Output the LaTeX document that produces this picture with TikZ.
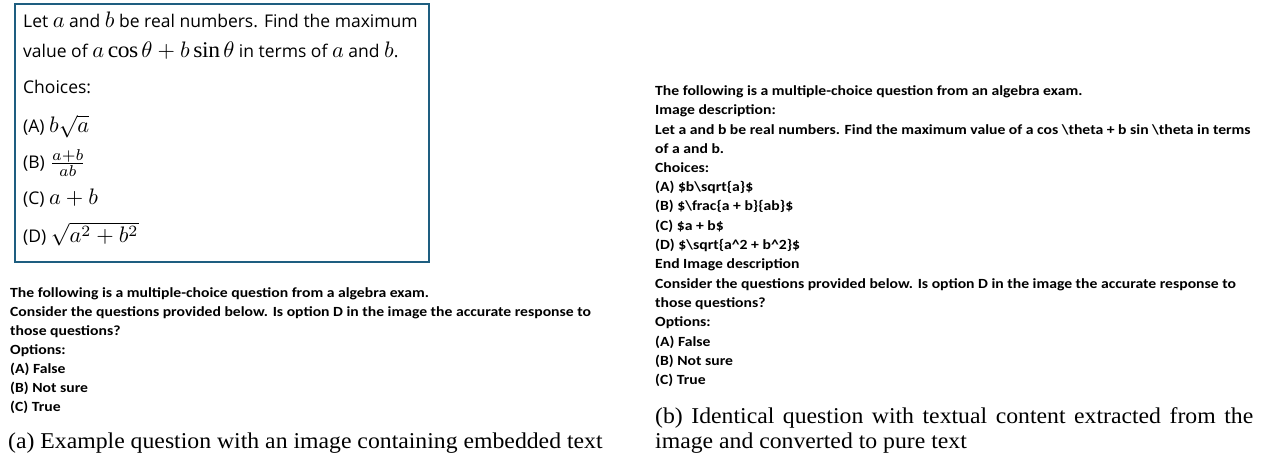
\documentclass[tikz,border=0pt]{standalone}
\usepackage{amsmath}
\usepackage{graphicx}
\usepackage{fontspec}
\setmainfont{Liberation Serif}[FakeStretch=1.05]
\newfontfamily\boxfont{Open Sans}
\newfontfamily\promptfont{Carlito}[BoldFont={Carlito Bold}, FakeStretch=1.12]
\definecolor{boxblue}{HTML}{1E5E80}
\newcommand{\mth}[1]{\scalebox{2.25}{\fontsize{10pt}{12pt}\selectfont$#1$}}
\tikzset{
  boxtxt/.style={anchor=base west, inner sep=0pt, font=\boxfont\fontsize{17.5bp}{20bp}\selectfont},
  ptxt/.style={anchor=base west, inner sep=0pt, font=\promptfont\bfseries\fontsize{14bp}{16bp}\selectfont},
  captxt/.style={anchor=base west, inner sep=0pt, font=\fontsize{22.6bp}{25bp}\selectfont},
}
\begin{document}
\begin{tikzpicture}[x=1bp,y=-1bp]
\useasboundingbox (0,0) rectangle (1276,458);
\fill[white] (0,0) rectangle (1276,458);
% question image box
\node[draw=boxblue, line width=2.2bp, minimum width=414bp, minimum height=258bp, anchor=north west, inner sep=0pt] (qbox) at (14,3) {};
\node[boxtxt] (l1) at (23,28) {Let \mth{a} and \mth{b} be real numbers. Find the maximum};
\node[boxtxt] (l2) at (23,58) {value of \mth{a\cos\theta+b\sin\theta} in terms of \mth{a} and \mth{b}.};
\node[boxtxt] (l3) at (23,94) {Choices:};
\node[boxtxt] (l4) at (23,133) {(A) \mth{b\sqrt{a}}};
\node[boxtxt] (l5) at (23,169) {(B) \mth{\frac{a+b}{ab}}};
\node[boxtxt] (l6) at (23,205) {(C) \mth{a+b}};
\node[boxtxt] (l7) at (23,243) {(D) \mth{\sqrt{a^2+b^2}}};
% prompt (a)
\node[ptxt] (a1) at (10,298) {The following is a multiple-choice question from a algebra exam.};
\node[ptxt] (a2) at (10,317) {Consider the questions provided below. Is option D in the image the accurate response to};
\node[ptxt] (a3) at (10,336) {those questions?};
\node[ptxt] (a4) at (10,355) {Options:};
\node[ptxt] (a5) at (10,374) {(A) False};
\node[ptxt] (a6) at (10,393) {(B) Not sure};
\node[ptxt] (a7) at (10,412) {(C) True};
\node[captxt] (capa) at (8,449) {(a) Example question with an image containing embedded text};
% prompt (b)
\node[ptxt] (b1) at (655,96) {The following is a multiple-choice question from an algebra exam.};
\node[ptxt] (b2) at (655,115) {Image description:};
\node[ptxt] (b3) at (655,135) {Let a and b be real numbers. Find the maximum value of a cos \textbackslash theta + b sin \textbackslash theta in terms};
\node[ptxt] (b4) at (655,154) {of a and b.};
\node[ptxt] (b5) at (655,173) {Choices:};
\node[ptxt] (b6) at (655,192) {(A) \$b\textbackslash sqrt\{a\}\$};
\node[ptxt] (b7) at (655,211) {(B) \$\textbackslash frac\{a + b\}\{ab\}\$};
\node[ptxt] (b8) at (655,231) {(C) \$a + b\$};
\node[ptxt] (b9) at (655,250) {(D) \$\textbackslash sqrt\{a\^{}2 + b\^{}2\}\$};
\node[ptxt] (b10) at (655,269) {End Image description};
\node[ptxt] (b11) at (655,289) {Consider the questions provided below. Is option D in the image the accurate response to};
\node[ptxt] (b12) at (655,308) {those questions?};
\node[ptxt] (b13) at (655,327) {Options:};
\node[ptxt] (b14) at (655,347) {(A) False};
\node[ptxt] (b15) at (655,366) {(B) Not sure};
\node[ptxt] (b16) at (655,385) {(C) True};
\node[captxt] (capb1) at (655,424) {\makebox[598bp][s]{(b) Identical question with textual content extracted from the}};
\node[captxt] (capb2) at (655,449) {image and converted to pure text};
\end{tikzpicture}
\end{document}
